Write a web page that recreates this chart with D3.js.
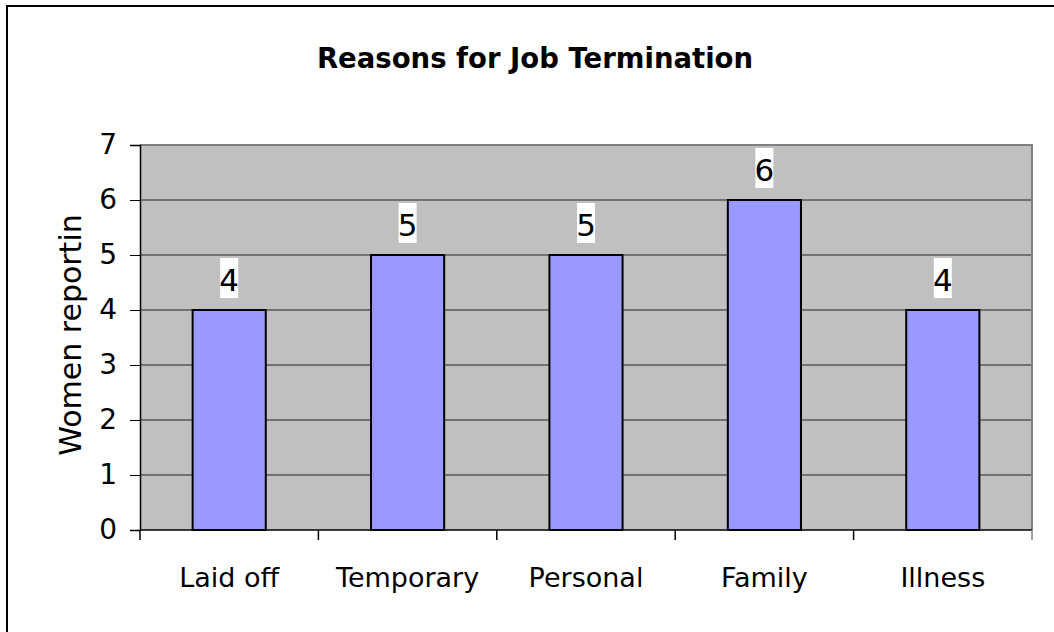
<!DOCTYPE html>
<html>
<head>
<meta charset="utf-8">
<script src="https://cdn.jsdelivr.net/npm/d3@7"></script>
<style>
  html,body{margin:0;padding:0;background:#fff;}
  svg{display:block;font-family:'DejaVu Sans',sans-serif;}
</style>
</head>
<body>
<svg id="chart" width="1054" height="632"></svg>
<script>
// chart data
const categories = ['Laid off','Temporary','Personal','Family','Illness'];
const counts = [4,5,5,6,4];
const yTicks = [0,1,2,3,4,5,6,7];
const titleText = 'Reasons for Job Termination';
const yTitle = 'Women reportin';

const svg = d3.select('#chart');
const plot = { left:140, right:1032, top:145, bottom:530 };

// outer frame (only top/left visible, rest cropped)
svg.append('path').attr('d','M7,632 L7,6 L1054,6')
  .attr('fill','none').attr('stroke','#000').attr('stroke-width',2);

const x = d3.scaleBand().domain(categories).range([plot.left, plot.right]).paddingInner(0.59).paddingOuter(0.295);
const xOuter = d3.scaleBand().domain(categories).range([plot.left, plot.right]);
const y = d3.scaleLinear().domain([0,7]).range([plot.bottom, plot.top]);

// plot background
svg.append('rect').attr('x',plot.left).attr('y',plot.top)
  .attr('width',plot.right-plot.left).attr('height',plot.bottom-plot.top)
  .attr('fill','#c0c0c0');

// gridlines
svg.append('g').selectAll('line').data(yTicks.filter(d=>d>0 && d<7)).enter().append('line')
  .attr('x1',plot.left).attr('x2',plot.right)
  .attr('y1',d=>y(d)).attr('y2',d=>y(d))
  .attr('stroke','#222').attr('stroke-width',1.2);

// top + right border of plot (gray)
svg.append('path').attr('d',`M${plot.left},${plot.top} L${plot.right},${plot.top} L${plot.right},${plot.bottom}`)
  .attr('fill','none').attr('stroke','#808080').attr('stroke-width',2);

// bars
svg.append('g').selectAll('rect').data(counts).enter().append('rect')
  .attr('x',(d,i)=>x(categories[i]))
  .attr('y',d=>y(d))
  .attr('width',x.bandwidth())
  .attr('height',d=>y(0)-y(d))
  .attr('fill','#9999ff').attr('stroke','#000').attr('stroke-width',2);

// y axis
const yAxis = svg.append('g').attr('transform',`translate(${plot.left},0)`)
  .call(d3.axisLeft(y).tickValues(yTicks).tickFormat(d3.format('d')).tickSize(10).tickPadding(13));
yAxis.select('.domain').attr('stroke','#000').attr('stroke-width',1.5);
yAxis.selectAll('.tick line').attr('stroke','#000');
yAxis.selectAll('text').attr('font-size',28).attr('fill','#000').attr('font-family',"'DejaVu Sans',sans-serif");

// x axis: ticks at category boundaries
const bounds = categories.map(c=>xOuter(c)).concat([plot.right]);
svg.append('line').attr('x1',plot.left).attr('x2',plot.right).attr('y1',plot.bottom).attr('y2',plot.bottom)
  .attr('stroke','#000').attr('stroke-width',1.5);
svg.append('g').selectAll('line').data(bounds).enter().append('line')
  .attr('x1',d=>d).attr('x2',d=>d).attr('y1',plot.bottom).attr('y2',plot.bottom+10)
  .attr('stroke',(d,i)=>i===bounds.length-1?'#808080':'#000').attr('stroke-width',1.5);
svg.append('g').selectAll('text').data(categories).enter().append('text')
  .attr('x',d=>xOuter(d)+xOuter.bandwidth()/2).attr('y',587)
  .attr('text-anchor','middle').attr('font-size',27).attr('fill','#000')
  .text(d=>d);

// value labels with white boxes
const lbl = svg.append('g').selectAll('g').data(counts).enter().append('g')
  .attr('transform',(d,i)=>`translate(${x(categories[i])+x.bandwidth()/2},${y(d)-12})`);
lbl.append('rect').attr('x',-9).attr('y',-40).attr('width',18).attr('height',40).attr('fill','#fff');
lbl.append('text').attr('y',-7).attr('text-anchor','middle').attr('font-size',31).attr('fill','#000').text(d=>d);

// title
svg.append('text').attr('x',535).attr('y',68).attr('text-anchor','middle')
  .attr('font-size',27.5).attr('font-weight','bold').attr('fill','#000').text(titleText);

// y title
svg.append('text').attr('transform',`translate(81,335) rotate(-90)`)
  .attr('text-anchor','middle').attr('font-size',30).attr('fill','#000').text(yTitle);
</script>
</body>
</html>
